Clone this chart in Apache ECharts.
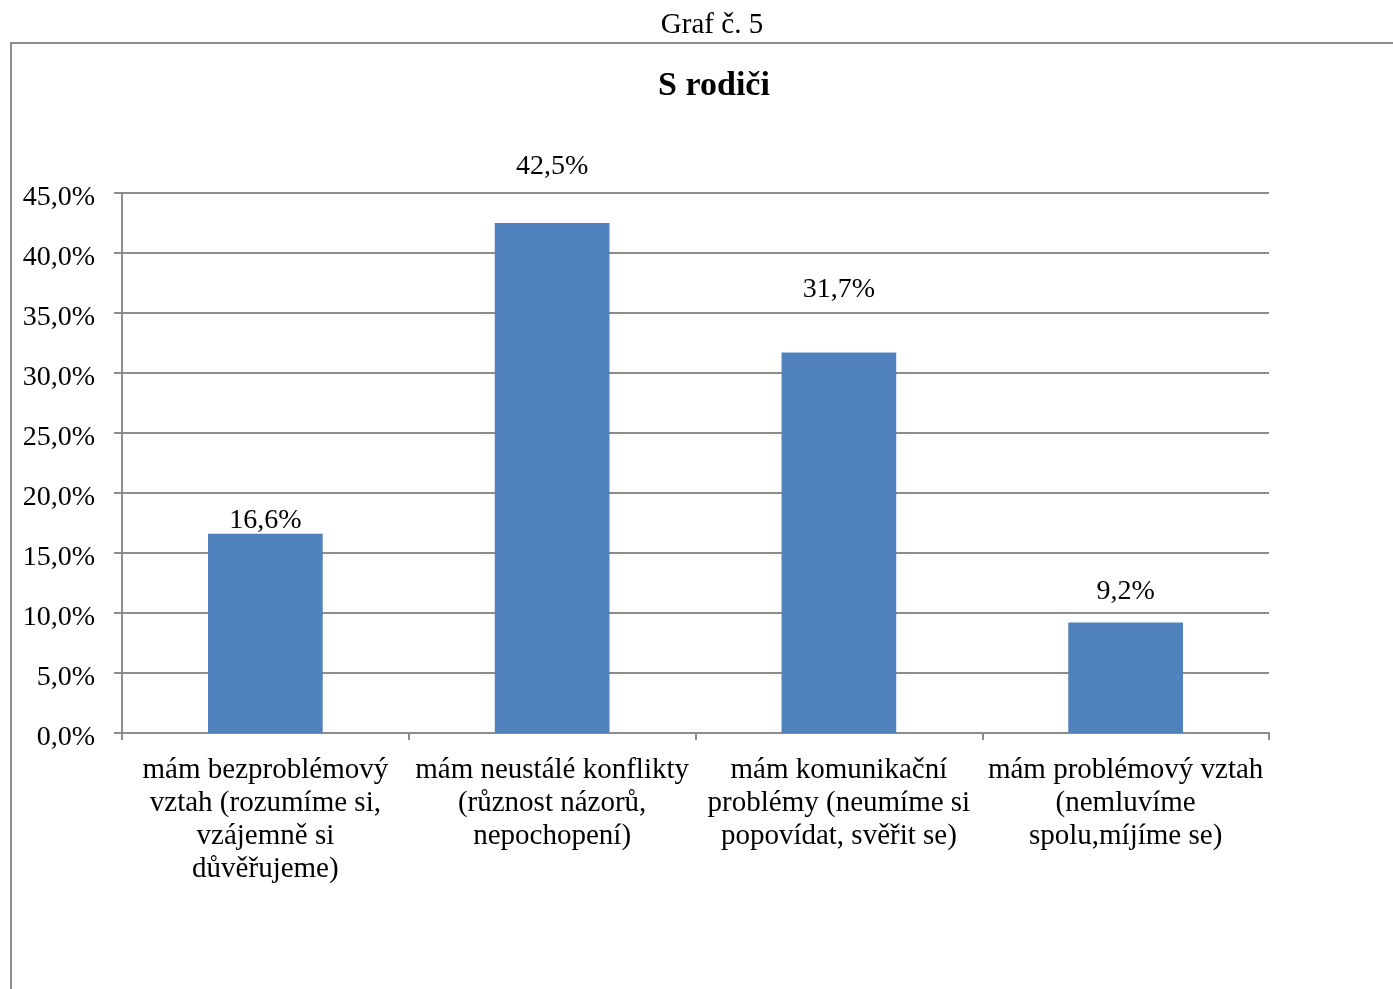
<!DOCTYPE html>
<html>
<head>
<meta charset="utf-8">
<script src="https://cdn.jsdelivr.net/npm/echarts@6/dist/echarts.min.js"></script>
<style>
  html, body { margin: 0; padding: 0; background: #fff; }
  #chart { width: 1393px; height: 989px; }
</style>
</head>
<body>
<div id="chart"></div>
<script>
// Survey answers: relationship with parents (share of respondents, %)
const categories = [
  'mám bezproblémový\nvztah (rozumíme si,\nvzájemně si\ndůvěřujeme)',
  'mám neustálé konflikty\n(různost názorů,\nnepochopení)',
  'mám komunikační\nproblémy (neumíme si\npopovídat, svěřit se)',
  'mám problémový vztah\n(nemluvíme\nspolu,míjíme se)'
];
const values = [16.6, 42.5, 31.7, 9.2];
const yTicks = { min: 0, max: 45, interval: 5 };

// gap between bar top and its value label, per bar
const labelGap = [-1, 42, 49, 17];

const FONT = '"Liberation Serif", "Times New Roman", serif';
const GRID_COLOR = '#8c8c8c';

const chart = echarts.init(document.getElementById('chart'));

const fmt = v => v.toFixed(1).replace('.', ',') + '%';

chart.setOption({
  animation: false,
  backgroundColor: '#fff',
  textStyle: { fontFamily: FONT },
  graphic: [
    {
      type: 'rect',
      shape: { x: 11, y: 43, width: 1400, height: 1000 },
      style: { fill: 'none', stroke: '#8c8c8c', lineWidth: 2 },
      silent: true
    },
    {
      type: 'text',
      x: 712,
      y: 25,
      style: {
        text: 'Graf č. 5', font: '29px ' + FONT, fill: '#000',
        align: 'center', verticalAlign: 'middle'
      }
    },
    {
      type: 'text',
      x: 714,
      y: 86,
      style: {
        text: 'S rodiči', font: 'bold 34px ' + FONT, fill: '#000',
        align: 'center', verticalAlign: 'middle'
      }
    }
  ],
  grid: { left: 122, right: 124, top: 193, bottom: 256, containLabel: false },
  xAxis: {
    type: 'category',
    data: categories,
    axisLine: { lineStyle: { color: GRID_COLOR, width: 2 } },
    axisTick: { show: true, length: 7, lineStyle: { color: GRID_COLOR, width: 2 } },
    axisLabel: {
      interval: 0,
      margin: 21,
      color: '#000',
      fontFamily: FONT,
      fontSize: 29,
      lineHeight: 33,
      align: 'center'
    }
  },
  yAxis: {
    type: 'value',
    min: yTicks.min,
    max: yTicks.max,
    interval: yTicks.interval,
    axisLine: { show: true, lineStyle: { color: GRID_COLOR, width: 2 } },
    axisTick: { show: true, length: 8, lineStyle: { color: GRID_COLOR, width: 2 } },
    splitLine: { lineStyle: { color: GRID_COLOR, width: 2 } },
    axisLabel: {
      color: '#000',
      fontFamily: FONT,
      fontSize: 28,
      margin: 27,
      formatter: v => '{t|' + fmt(v) + '}',
      rich: {
        t: {
          fontFamily: FONT,
          fontSize: 28,
          color: '#000',
          padding: [9, 0, 0, 0]
        }
      }
    }
  },
  series: [{
    type: 'bar',
    barWidth: '40%',
    data: values.map((v, i) => ({
      value: v,
      label: { distance: labelGap[i] }
    })),
    itemStyle: { color: '#4f81bd' },
    label: {
      show: true,
      position: 'top',
      color: '#000',
      fontFamily: FONT,
      fontSize: 28,
      formatter: p => fmt(p.value)
    }
  }]
});
</script>
</body>
</html>
